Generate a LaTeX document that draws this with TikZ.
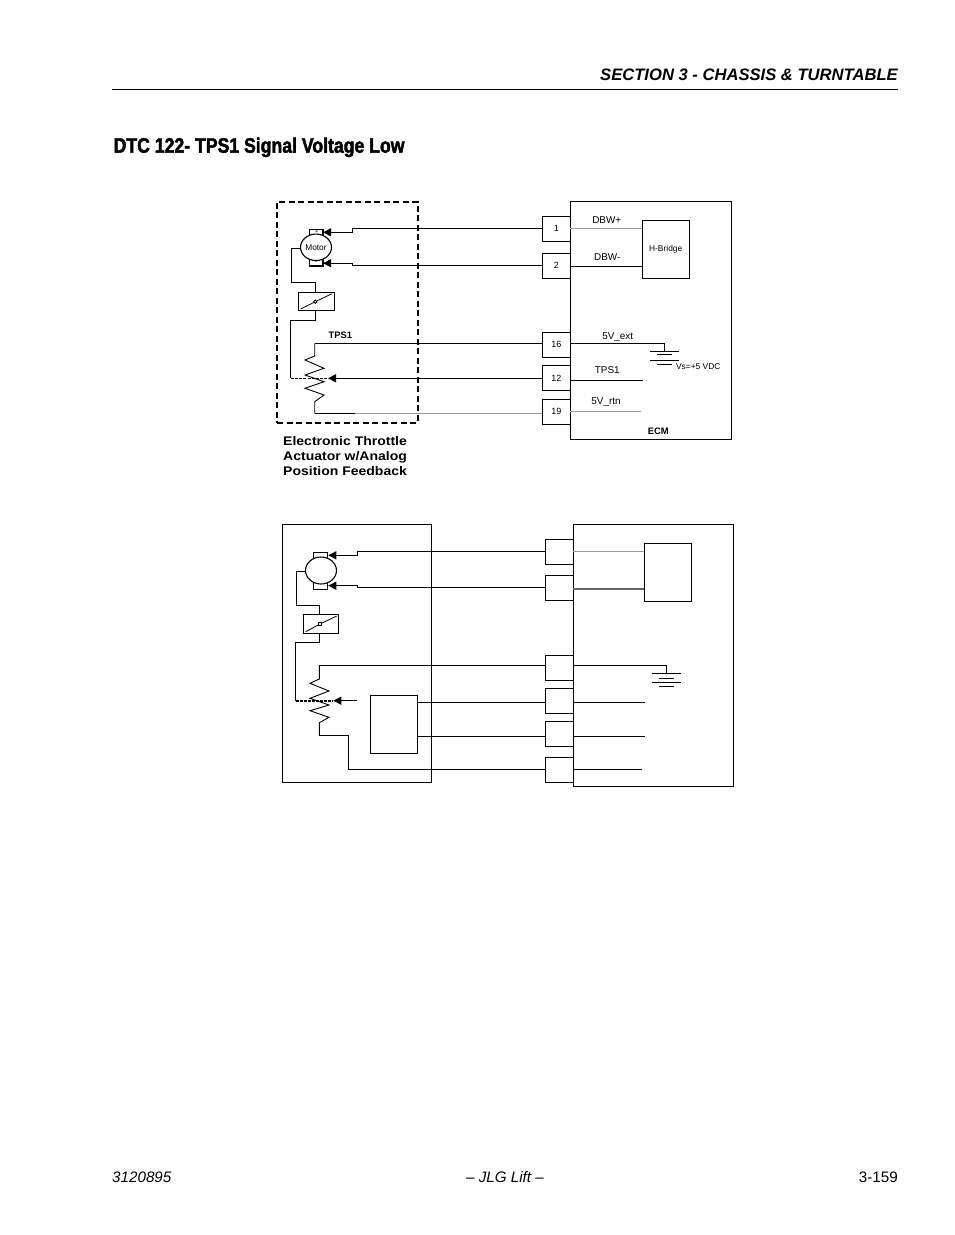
\documentclass[tikz,border=0pt]{standalone}
\usepackage{fontspec}
\setmainfont{Liberation Sans}
\newfontfamily\condfont{Liberation Sans}[FakeStretch=0.84,BoldFeatures={FakeBold=2}]
\newfontfamily\capfont{Liberation Sans}[FakeStretch=1.12]
\usetikzlibrary{arrows.meta,calc,shapes.geometric}
\tikzset{
  x=1pt,y=-1pt,
  box/.style={draw=black,line width=1.1pt,inner sep=0pt,outer sep=0pt,font=\fontsize{9}{10}\selectfont},
  dashbox/.style={box,line width=1.7pt,dash pattern=on 6pt off 3.5pt},
  wire/.style={draw=black,line width=1.1pt},
  graywire/.style={draw=black!40,line width=1.3pt},
  darkwire/.style={draw=black!60,line width=1.2pt},
  feed/.style={wire,-{Triangle[length=8pt,width=8pt]}},
  lbl/.style={font=\fontsize{9.9}{11}\selectfont,inner sep=0pt},
  tinylbl/.style={font=\fontsize{8.4}{9}\selectfont,inner sep=0pt},
  boldlbl/.style={font=\fontsize{9.4}{10}\selectfont\bfseries,inner sep=0pt},
  caption/.style={font=\fontsize{12.5}{15}\selectfont\capfont\bfseries,inner sep=0pt,anchor=base west},
  zig/.style={draw=black,line width=0.9pt},
  motor/.style={ellipse,draw=black,line width=1.1pt,fill=white,inner sep=0pt,outer sep=0pt,font=\fontsize{8.3}{9}\selectfont},
  pivot/.style={circle,draw=black,line width=0.9pt,fill=white,inner sep=0pt,minimum size=3.4pt,outer sep=0pt},
}
\newcommand{\bx}[7][box]{\node[#1,minimum width={(#5-#3)*1pt},minimum height={(#6-#4)*1pt}] (#2) at ({(#3+#5)/2},{(#4+#6)/2}) {#7};}
\begin{document}
\begin{tikzpicture}
\useasboundingbox (0,0) rectangle (954,1235);
% page furniture
\node[anchor=base east,inner sep=0pt,font=\fontsize{16.6}{18}\selectfont\bfseries\itshape] (head) at (898,80.7) {SECTION 3 - CHASSIS \& TURNTABLE};
\coordinate (ruleL) at (112,89.5); \coordinate (ruleR) at (898,89.5);
\draw[line width=1.1pt] (ruleL) -- (ruleR);
\node[anchor=base west,inner sep=0pt,font=\fontsize{21}{24}\selectfont\condfont\bfseries] (title) at (113.5,152.7) {DTC 122- TPS1 Signal Voltage Low};
\node[anchor=base west,inner sep=0pt,font=\fontsize{15.2}{18}\selectfont\itshape] (docno) at (112,1182.7) {3120895};
\node[anchor=base,inner sep=0pt,font=\fontsize{15.2}{18}\selectfont\itshape] (foot) at (505,1182.7) {– JLG Lift –};
\node[anchor=base east,inner sep=0pt,font=\fontsize{15.2}{18}\selectfont] (page) at (898,1182.7) {3-159};

% ===== TOP DIAGRAM =====
\bx[dashbox]{act}{277}{201.7}{417.7}{422.7}{}
\bx{ecm}{570.3}{201.3}{731.7}{439.3}{}
\bx{hb}{642.3}{220.3}{689.3}{278.3}{}
\node[tinylbl] (hbl) at (665.7,249.7) {H-Bridge};
\bx{p1}{542.3}{216.3}{570.3}{241.3}{1}
\bx{p2}{542.3}{253.3}{570.3}{278.3}{2}
\bx{p16}{542.3}{332.3}{570.3}{357.3}{16}
\bx{p12}{542.3}{365.7}{570.3}{390.3}{12}
\bx{p19}{542.3}{399.3}{570.3}{424.3}{19}
% motor
\bx{tA}{309.5}{229.5}{323}{236}{}
\bx{tB}{309.5}{259}{323}{266}{}
\node[motor,minimum width=31pt,minimum height=26.5pt] (mA) at (316,247.3) {Motor};
\node[font=\fontsize{6}{7}\selectfont,inner sep=0pt] (plA) at (316.5,231.8) {+};
\node[font=\fontsize{6}{7}\selectfont,inner sep=0pt] (miA) at (316,263) {-};
\bx{swA}{298.3}{292.7}{334.3}{310.3}{}
\node[pivot] (pvA) at (315.3,301.7) {};
\coordinate (swA1) at (300.7,309); \coordinate (swA2) at (332,293.7);
\draw[line width=0.8pt] (swA1) -- (pvA) -- (swA2);
% arrows into motor
\coordinate (jA1) at (352.3,232.3);
\coordinate (tipA1) at (323,232.3);
\draw[feed] (p1.west) -| (jA1) -- (tipA1);
\coordinate (jA2) at (352.3,263.2);
\coordinate (tipA2) at (323,263.2);
\draw[feed] (p2.west) -| (jA2) -- (tipA2);
% motor to switch to wiper
\draw[wire] (mA.west |- 0,248.3) -- (291.7,248.3) -- (291.7,282.3) -- (315.3,282.3) -- (swA.north -| 315.3,0);
\draw[wire] (swA.south -| 315.3,0) -- (315.3,320.7) -- (290.7,320.7) -- (290.7,378.3) coordinate (wpA);
\coordinate (tipA3) at (328,378.3);
\draw[line width=1.2pt,dash pattern=on 3pt off 1.2pt] (wpA) -- (tipA3);
\draw[feed] (p12.west |- tipA3) -- (tipA3);
% resistor
\coordinate (rA0) at (314.7,343.3);
\draw[wire] (p16.west |- rA0) -- (rA0);
\draw[zig] (rA0) -- (314.7,356) -- (305,360) -- (324,368.3) -- (305,375) -- (324,381.7) -- (305,388.3) -- (324,395) -- (314.7,401.7) -- (314.7,413.3) coordinate (rA1);
\coordinate (rA2) at (355,413.3);
\draw[wire] (rA1) -- (rA2);
\draw[graywire] (rA2) -- (p19.west |- rA2);
\node[boldlbl] (tpsA) at (340.3,335.3) {TPS1};
\node[caption] (cap1) at (283,445.6) {Electronic Throttle};
\node[caption] (cap2) at (283,460.6) {Actuator w/Analog};
\node[caption] (cap3) at (283,475.6) {Position Feedback};
% ECM side
\coordinate (hbA) at (642.3,228.7); \coordinate (ecA) at (570.3,228.7);
\draw[graywire] (ecA) -- (hbA) ;
\coordinate (hbB) at (642.3,266.4); \coordinate (ecB) at (570.3,266.4);
\draw[wire] (ecB) -- (hbB);
\node[lbl] (dbwp) at (606.7,220) {DBW+};
\node[lbl] (dbwm) at (607.3,256.7) {DBW-};
\coordinate (gA) at (664.3,351.4);
\coordinate (gAk) at (664.3,343.3);
\draw[wire] (p16.east |- gAk) -- (gAk) -- (gA);
\coordinate (gA1) at (650,351.4); \coordinate (gA2) at (679,351.4);
\coordinate (gA3) at (657,354.4); \coordinate (gA4) at (671.7,354.4);
\coordinate (gA5) at (650,360.4); \coordinate (gA6) at (679,360.4);
\coordinate (gA7) at (657,364.4); \coordinate (gA8) at (671.7,364.4);
\draw[wire] (gA1) -- (gA2) (gA3) -- (gA4) (gA5) -- (gA6) (gA7) -- (gA8);
\node[tinylbl] (vs) at (698.3,367) {Vs=+5 VDC};
\coordinate (tpsE) at (643,380.3); \coordinate (tpsS) at (570.3,380.3);
\draw[wire] (tpsS) -- (tpsE);
\coordinate (rtnE) at (641,411.7); \coordinate (rtnS) at (570.3,411.7);
\draw[graywire] (rtnS) -- (rtnE);
\node[lbl] (l5e) at (617.7,337.3) {5V\_ext};
\node[lbl] (ltps) at (607.3,370.3) {TPS1};
\node[lbl] (l5r) at (606,402.5) {5V\_rtn};
\node[boldlbl] (lecm) at (658.3,431) {ECM};

% ===== BOTTOM DIAGRAM =====
\bx{actB}{282.3}{524.3}{431.3}{782.3}{}
\bx{ecmB}{573.3}{524.3}{733.3}{786.4}{}
\bx{hbB2}{644.3}{543.3}{691.3}{601.3}{}
\bx{q1}{545.3}{539.3}{573.3}{564.3}{}
\bx{q2}{545.3}{575.3}{573.3}{600.3}{}
\bx{q3}{545.3}{655.3}{573.3}{680.3}{}
\bx{q4}{545.3}{688.3}{573.3}{713.3}{}
\bx{q5}{545.3}{721.3}{573.3}{746.3}{}
\bx{q6}{545.3}{757.3}{573.3}{782.3}{}
\bx{inner}{370.3}{695.3}{417.7}{753.3}{}
\bx{tC}{313.3}{552.3}{327.7}{559}{}
\bx{tD}{313.3}{582}{327.7}{589.3}{}
\node[motor,minimum width=31pt,minimum height=27pt] (mB) at (321,570.5) {};
\bx{swB}{303.3}{614.3}{338.3}{633.3}{}
\node[pivot,rectangle,minimum size=3.2pt] (pvB) at (320,624) {};
\coordinate (swB1) at (305.7,631.7); \coordinate (swB2) at (336.7,616);
\draw[line width=0.8pt] (swB1) -- (pvB) -- (swB2);
\coordinate (jB1) at (357.3,555.3);
\coordinate (tipB1) at (328.3,555.3);
\draw[feed] (q1.west) -| (jB1) -- (tipB1);
\coordinate (jB2) at (357.3,585.7);
\coordinate (tipB2) at (328.3,585.7);
\draw[feed] (q2.west) -| (jB2) -- (tipB2);
\draw[wire] (305.3,571.3) -- (296.7,571.3) -- (296.7,605.3) -- (319.3,605.3) -- (319.3,614.3);
\draw[wire] (319.3,633.3) -- (319.3,642.3) -- (295.7,642.3) -- (295.7,700.7) coordinate (wpB);
\coordinate (tipB3) at (333.3,700.7); \coordinate (feedB) at (356.7,700.7);
\draw[line width=1.6pt,dash pattern=on 3pt off 1pt] (wpB) -- (tipB3);
\draw[feed] (feedB) -- (tipB3);
\coordinate (rB0) at (319.3,665.4);
\draw[wire] (q3.west |- rB0) -- (rB0);
\draw[zig] (rB0) -- (319.3,679) -- (310,683.3) -- (329,691) -- (310,698.3) -- (329,705) -- (310,710.7) -- (329,717.3) -- (319.3,722.7) -- (319.3,735.7) coordinate (rB1);
\coordinate (kB) at (348.3,735.7);
\draw[wire] (rB1) -- (kB) |- (q6.west);
\draw[wire] (inner.east |- 0,702.7) -- (q4.west |- 0,702.7);
\draw[wire] (inner.east |- 0,736.4) -- (q5.west |- 0,736.4);
\coordinate (eC) at (573.3,551.7); \coordinate (hC) at (644.3,551.7);
\draw[graywire] (eC) -- (hC);
\coordinate (eD) at (573.3,589); \coordinate (hD) at (644.3,589);
\draw[darkwire] (eD) -- (hD);
\coordinate (gB) at (666.3,673.3);
\coordinate (gBk) at (666.3,665.4);
\draw[wire] (q3.east |- gBk) -- (gBk) -- (gB);
\coordinate (gB1) at (652.3,673.3); \coordinate (gB2) at (681.3,673.3);
\coordinate (gB3) at (659,678.3); \coordinate (gB4) at (674,678.3);
\coordinate (gB5) at (652.3,682.3); \coordinate (gB6) at (681.3,682.3);
\coordinate (gB7) at (659,686.3); \coordinate (gB8) at (674,686.3);
\draw[wire] (gB1) -- (gB2) (gB3) -- (gB4) (gB5) -- (gB6) (gB7) -- (gB8);
\coordinate (e4) at (645,702.3); \coordinate (e5) at (645,736.4); \coordinate (e6) at (642.3,769.3);
\draw[wire] (q4.east |- e4) -- (e4);
\draw[wire] (q5.east |- e5) -- (e5);
\draw[wire] (q6.east |- e6) -- (e6);
\end{tikzpicture}
\end{document}
